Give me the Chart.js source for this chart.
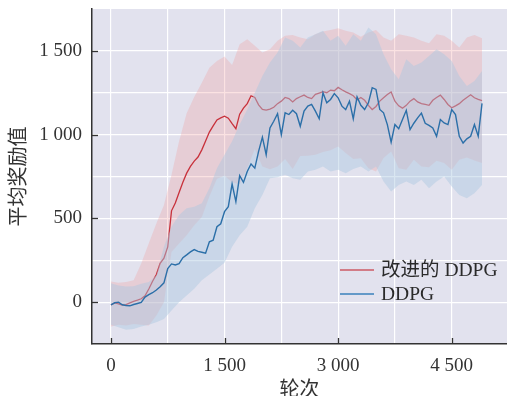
<!DOCTYPE html>
<html>
<head>
<meta charset="utf-8">
<script src="https://cdn.jsdelivr.net/npm/chart.js@4.4.0/dist/chart.umd.min.js"></script>
<style>
  html, body { margin: 0; padding: 0; background: #ffffff; }
  #wrap { width: 507px; height: 396px; }
</style>
</head>
<body>
<div id="wrap"><canvas id="rewardChart" width="507" height="396"></canvas></div>
<script>
// series names
const seriesNames = ['改进的 DDPG', 'DDPG'];

// x positions: mean curves every 50 episodes, bands every 100 episodes
const MEAN_STEP = 50;
const BAND_STEP = 100;

// mean reward, improved DDPG
const improvedMean = [-16, -5, -10, -18, -15, -5, 5, 12, 20, 38, 78, 125, 165, 232, 262, 330, 545, 592, 655, 715,
    770, 810, 842, 866, 909, 962, 1015, 1052, 1088, 1100, 1110, 1098, 1065, 1035, 1122, 1158, 1185, 1232, 1222, 1178,
    1150, 1146, 1152, 1163, 1185, 1200, 1222, 1215, 1195, 1215, 1226, 1236, 1222, 1215, 1240, 1248, 1256, 1250, 1266, 1262,
    1282, 1268, 1255, 1245, 1232, 1207, 1222, 1205, 1175, 1150, 1168, 1200, 1220, 1240, 1255, 1200, 1172, 1158, 1175, 1200,
    1215, 1195, 1185, 1180, 1175, 1205, 1222, 1236, 1210, 1180, 1160, 1172, 1185, 1205, 1222, 1238, 1220, 1210, 1203];

// mean reward, DDPG
const ddpgMean = [-16, -4, 0, -16, -20, -22, -14, -8, -2, 30, 45, 56, 72, 92, 115, 200, 228, 222, 230, 265,
    282, 300, 314, 303, 298, 292, 360, 370, 450, 468, 540, 570, 705, 600, 755, 715, 780, 825, 800, 900,
    985, 880, 1040, 1080, 1125, 1000, 1130, 1120, 1145, 1125, 1050, 1140, 1170, 1180, 1140, 1095, 1250, 1190, 1210, 1245,
    1220, 1170, 1150, 1200, 1095, 1225, 1175, 1150, 1190, 1280, 1270, 1150, 1130, 1060, 955, 1060, 1035, 1090, 1145, 1030,
    1068, 1100, 1128, 1068, 1055, 1040, 990, 1090, 1070, 1060, 1150, 1120, 990, 950, 975, 990, 1060, 990, 1187];

// band edges (step 100)
const improvedUpper = [123, 115, 120, 130, 230, 352, 470, 580, 760, 960, 1128, 1225, 1310, 1400, 1440, 1466, 1415, 1540, 1570, 1530,
    1490, 1510, 1560, 1590, 1595, 1580, 1570, 1600, 1615, 1625, 1635, 1620, 1610, 1585, 1610, 1625, 1580, 1560, 1600, 1590,
    1580, 1560, 1545, 1600, 1590, 1560, 1520, 1580, 1595, 1575];
const improvedLower = [-145, -135, -140, -130, -135, -140, -80, 0, 300, 350, 400, 459, 508, 630, 736, 754, 715, 704, 800, 914,
    810, 794, 810, 854, 795, 872, 874, 880, 897, 907, 929, 890, 854, 859, 800, 780, 860, 900, 800, 790,
    850, 810, 805, 844, 830, 790, 850, 864, 845, 830];
const ddpgUpper = [113, 100, 93, 95, 110, 120, 160, 330, 450, 520, 560, 570, 590, 680, 800, 880, 960, 1060, 1150, 1250,
    1350, 1430, 1490, 1580, 1560, 1520, 1580, 1600, 1620, 1560, 1590, 1530, 1600, 1560, 1640, 1600, 1480, 1390, 1330, 1450,
    1410, 1430, 1470, 1510, 1480, 1440, 1350, 1290, 1320, 1380];
const ddpgLower = [-135, -150, -165, -160, -145, -135, -120, -100, -50, 0, 40, 80, 130, 165, 200, 235, 330, 400, 450, 560,
    640, 740, 745, 760, 740, 730, 780, 790, 810, 780, 790, 770, 795, 810, 780, 810, 720, 660, 700, 720,
    700, 730, 680, 720, 750, 690, 640, 620, 650, 700];

// ticks
const xGridTicks = [0, 750, 1500, 2250, 3000, 3750, 4500];
const xLabelTicks = [0, 1500, 3000, 4500];
const yGridTicks = [0, 250, 500, 750, 1000, 1250, 1500];
const yLabelTicks = [0, 500, 1000, 1500];

const toPoints = (arr, step) => arr.map((v, i) => ({ x: i * step, y: v }));

function fmt(v) {
    if (v >= 1000) return Math.floor(v / 1000) + ' ' + String(v % 1000).padStart(3, '0');
    return String(v);
}

const FONT_FAMILY = '"Liberation Serif", "Noto Sans CJK SC", serif';
const RED = '#c8313b';
const BLUE = '#2b6fa8';

// lavender plot background
const plotBackground = {
    id: 'plotBackground',
    beforeDraw(chart) {
        const { ctx, chartArea: a } = chart;
        ctx.save();
        ctx.fillStyle = '#e2e2ee';
        ctx.fillRect(a.left, a.top, a.right - a.left, a.bottom - a.top);
        ctx.restore();
    }
};

// inward tick marks + legend inside the plot
const extras = {
    id: 'extras',
    afterDraw(chart) {
        const { ctx, chartArea: a, scales } = chart;
        ctx.save();
        ctx.strokeStyle = '#333';
        ctx.lineWidth = 1.3;
        xLabelTicks.forEach(v => {
            const px = Math.round(scales.x.getPixelForValue(v)) + 0.5;
            ctx.beginPath(); ctx.moveTo(px, a.bottom); ctx.lineTo(px, a.bottom - 6); ctx.stroke();
        });
        yLabelTicks.forEach(v => {
            const py = Math.round(scales.y.getPixelForValue(v)) + 0.5;
            ctx.beginPath(); ctx.moveTo(a.left, py); ctx.lineTo(a.left + 6, py); ctx.stroke();
        });

        // legend
        const legendColors = ['#cc5a64', '#3a80bb'];
        ctx.font = '19.5px ' + FONT_FAMILY;
        ctx.textBaseline = 'middle';
        ctx.fillStyle = '#2a2a2a';
        seriesNames.forEach((name, i) => {
            const y = 270 + i * 24;
            ctx.strokeStyle = legendColors[i];
            ctx.lineWidth = 1.6;
            ctx.beginPath(); ctx.moveTo(340, y); ctx.lineTo(374, y); ctx.stroke();
            ctx.fillText(name, 381, y + 1);
        });
        ctx.restore();
    }
};

const ctx = document.getElementById('rewardChart').getContext('2d');
const rewardChart = new Chart(ctx, {
    type: 'line',
    data: {
        datasets: [
            { label: seriesNames[0], data: toPoints(improvedMean, MEAN_STEP), borderColor: RED, borderWidth: 1.3, order: 4 },
            { label: seriesNames[1], data: toPoints(ddpgMean, MEAN_STEP), borderColor: BLUE, borderWidth: 1.4, order: 1 },
            { label: 'up1', data: toPoints(improvedUpper, BAND_STEP), borderWidth: 0, borderColor: 'transparent',
              backgroundColor: 'rgba(240, 150, 150, 0.28)', fill: 3, order: 6 },
            { label: 'lo1', data: toPoints(improvedLower, BAND_STEP), borderWidth: 0, borderColor: 'transparent', order: 5 },
            { label: 'up2', data: toPoints(ddpgUpper, BAND_STEP), borderWidth: 0, borderColor: 'transparent',
              backgroundColor: 'rgba(170, 200, 225, 0.45)', fill: 5, order: 3 },
            { label: 'lo2', data: toPoints(ddpgLower, BAND_STEP), borderWidth: 0, borderColor: 'transparent', order: 2 }
        ]
    },
    options: {
        responsive: false,
        animation: false,
        events: [],
        layout: { padding: { top: 9, right: 0, left: 0, bottom: 0 } },
        elements: { point: { radius: 0 }, line: { tension: 0 } },
        plugins: {
            legend: { display: false },
            tooltip: { enabled: false }
        },
        scales: {
            x: {
                type: 'linear',
                min: -250,
                max: 5230,
                afterFit(scale) {
                    scale.height = 52;
                    scale.paddingLeft = 0;
                    scale.paddingRight = 0;
                },
                afterBuildTicks(scale) { scale.ticks = xGridTicks.map(v => ({ value: v })); },
                grid: { color: '#ffffff', lineWidth: 1.2, drawTicks: false },
                border: { display: true, color: '#333', width: 1.5 },
                ticks: {
                    padding: 11,
                    color: '#333',
                    font: { family: FONT_FAMILY, size: 19 },
                    maxRotation: 0,
                    autoSkip: false,
                    callback: v => xLabelTicks.includes(v) ? fmt(v) : ''
                },
                title: {
                    display: true,
                    text: '轮次',
                    color: '#333',
                    font: { family: FONT_FAMILY, size: 20, lineHeight: 0.5 },
                    padding: { top: 0, bottom: 0 }
                }
            },
            y: {
                min: -250,
                max: 1750,
                afterFit(scale) {
                    scale.width = 92;
                    scale.paddingTop = 0;
                    scale.paddingBottom = 0;
                },
                afterBuildTicks(scale) { scale.ticks = yGridTicks.map(v => ({ value: v })); },
                grid: { color: '#ffffff', lineWidth: 1.2, drawTicks: false },
                border: { display: true, color: '#333', width: 1.5 },
                ticks: {
                    padding: 10,
                    color: '#333',
                    font: { family: FONT_FAMILY, size: 19 },
                    autoSkip: false,
                    callback: v => yLabelTicks.includes(v) ? fmt(v) : ''
                },
                title: {
                    display: true,
                    text: '平均奖励值',
                    color: '#333',
                    font: { family: FONT_FAMILY, size: 20, lineHeight: 1.2 },
                    padding: { top: 8, bottom: 0 }
                }
            }
        }
    },
    plugins: [plotBackground, extras]
});
</script>
</body>
</html>
